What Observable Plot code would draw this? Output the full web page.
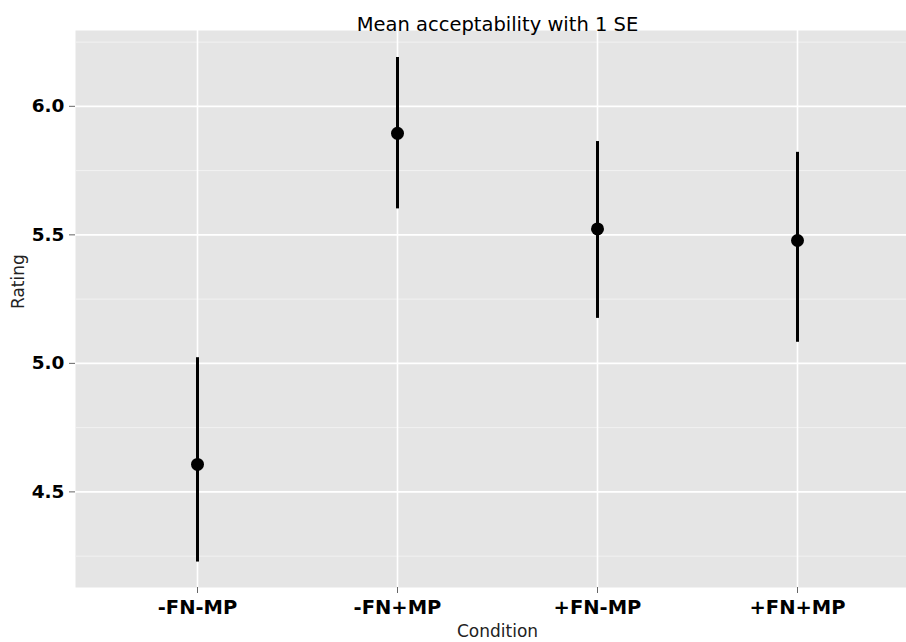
<!DOCTYPE html>
<html>
<head>
<meta charset="utf-8">
<script src="https://cdn.jsdelivr.net/npm/d3@7"></script>
<script src="https://cdn.jsdelivr.net/npm/@observablehq/plot@0.6"></script>
<style>
  html, body { margin: 0; padding: 0; background: #ffffff; overflow: hidden; }
  #chart svg { display: block; }
</style>
</head>
<body>
<div id="chart"></div>
<script>
const conditions = ["-FN-MP", "-FN+MP", "+FN-MP", "+FN+MP"];
const means = [4.607, 5.895, 5.523, 5.478];
const lower = [4.227, 5.601, 5.175, 5.082];
const upper = [5.022, 6.190, 5.863, 5.821];
const majorTicks = [4.5, 5.0, 5.5, 6.0];
const minorTicks = [4.25, 4.75, 5.25, 5.75, 6.25];
const titleText = "Mean acceptability with 1 SE";
const xLabel = "Condition";
const yLabel = "Rating";

const data = conditions.map((c, i) => ({condition: c, mean: means[i], lo: lower[i], hi: upper[i]}));

const font = "'DejaVu Sans', 'Liberation Sans', sans-serif";

const chart = Plot.plot({
  width: 906,
  height: 642,
  marginTop: 30,
  marginBottom: 55,
  marginLeft: 75,
  marginRight: -13,
  style: {fontFamily: font, background: "#ffffff", overflow: "visible"},
  x: {type: "point", domain: conditions, padding: 0.6, axis: null},
  y: {domain: [4.128, 6.295], axis: null},
  marks: [
    Plot.frame({fill: "#E5E5E5", stroke: null}),
    Plot.ruleY(minorTicks, {stroke: "#F2F2F2", strokeWidth: 1}),
    Plot.ruleY(majorTicks, {stroke: "#FFFFFF", strokeWidth: 1.6}),
    Plot.ruleX(conditions, {stroke: "#FFFFFF", strokeWidth: 1.6}),
    Plot.axisY({ticks: majorTicks, tickFormat: d3.format(".1f"), tickSize: 6, tickPadding: 5,
      stroke: "#666", fill: "#000", fontSize: 18.5, fontWeight: "bold", label: null}),
    Plot.axisX({tickSize: 6, tickPadding: 7, stroke: "#666", fill: "#000",
      fontSize: 19.5, fontWeight: "bold", label: null}),
    Plot.ruleX(data, {x: "condition", y1: "lo", y2: "hi", stroke: "#000", strokeWidth: 3}),
    Plot.dot(data, {x: "condition", y: "mean", r: 6.5, fill: "#000", stroke: null}),
    Plot.text([titleText], {frameAnchor: "top", dy: -13, fontSize: 19.5, fill: "#000", fontFamily: font}),
    Plot.text([xLabel], {frameAnchor: "bottom", dy: 49, fontSize: 17, fill: "#222", fontFamily: font}),
    Plot.text([yLabel], {frameAnchor: "left", dx: -57, rotate: -90, fontSize: 17, fill: "#222", fontFamily: font})
  ]
});
document.getElementById("chart").appendChild(chart);
</script>
</body>
</html>
